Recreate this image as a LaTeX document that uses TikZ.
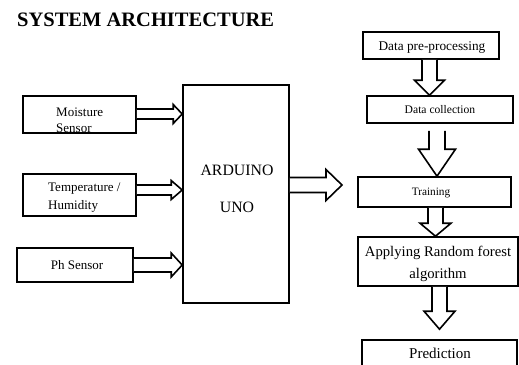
\documentclass[tikz,border=0pt]{standalone}
\usepackage{fontspec}
\setmainfont{Liberation Serif}
\usetikzlibrary{calc}
\tikzset{
  box/.style={draw=black, line width=1.6pt, rectangle, inner sep=0pt},
  blk/.style={draw=black, line width=1.6pt, line join=miter, fill=white},
  txt/.style={inner sep=0pt, text=black},
}
\newcommand\harr[5]{\draw[blk] let \p1=#1, \p2=#2 in
  (\x1,\y1+#3) -- (\x2-#5,\y1+#3) -- (\x2-#5,\y1+#4) -- (\x2,\y1) --
  (\x2-#5,\y1-#4) -- (\x2-#5,\y1-#3) -- (\x1,\y1-#3);}
\newcommand\varr[5]{\draw[blk] let \p1=#1, \p2=#2 in
  (\x1+#3,\y1) -- (\x1+#3,\y2+#5) -- (\x1+#4,\y2+#5) -- (\x1,\y2) --
  (\x1-#4,\y2+#5) -- (\x1-#3,\y2+#5) -- (\x1-#3,\y1);}
\begin{document}
\begin{tikzpicture}[x=1pt,y=-1pt]
\clip (0,0) rectangle (519,364);
\fill[white] (0,0) rectangle (519,364);
% title
\node[txt, anchor=west, font=\fontsize{20.5}{24}\selectfont\bfseries] (title) at (17,20) {SYSTEM ARCHITECTURE};
% left boxes
\node[box, minimum width=113pt, minimum height=37pt] (moist) at (79.5,114.5) {};
\node[txt, anchor=west, align=left, font=\fontsize{13}{16}\selectfont] (moistt) at (56,120) {Moisture\\Sensor};
\node[box, minimum width=113pt, minimum height=42pt] (temp) at (79.5,195) {};
\node[txt, anchor=west, align=left, font=\fontsize{13}{18}\selectfont] (tempt) at (48,198) {Temperature /\\Humidity};
\node[box, minimum width=116pt, minimum height=34pt] (ph) at (75,265) {};
\node[txt, font=\fontsize{13}{16}\selectfont] (pht) at (77,265) {Ph Sensor};
% arduino
\node[box, minimum width=106pt, minimum height=218pt] (ard) at (236,194) {};
\node[txt, align=center, font=\fontsize{15.8}{37}\selectfont] (ardt) at (237,188.5) {ARDUINO\\UNO};
% right column
\node[box, minimum width=136pt, minimum height=27pt] (pre) at (431,45.5) {};
\node[txt, font=\fontsize{13.3}{16}\selectfont] (pret) at (432,48) {Data pre-processing};
\node[box, minimum width=146pt, minimum height=27pt] (coll) at (440,109.5) {};
\node[txt, font=\fontsize{11.6}{14}\selectfont] (collt) at (440,110) {Data collection};
\node[box, minimum width=153pt, minimum height=30pt] (train) at (434.5,192) {};
\node[txt, font=\fontsize{11.3}{14}\selectfont] (traint) at (431,193) {Training};
\node[box, minimum width=160pt, minimum height=49pt] (apply) at (438,261.5) {};
\node[txt, align=center, font=\fontsize{14.7}{22}\selectfont] (applyt) at (438,264) {Applying Random forest\\algorithm};
\node[box, minimum width=155pt, minimum height=40pt] (pred) at (439.5,360) {};
\node[txt, font=\fontsize{15}{18}\selectfont] (predt) at (440,353) {Prediction};
\coordinate (ardtip) at (342,185);
% horizontal block arrows
\harr{($(moist.east)+(0,-0.5)$)}{(ard.west)}{5pt}{9.5pt}{9pt}
\harr{($(temp.east)+(0,-5)$)}{(ard.west)}{5pt}{9.5pt}{11pt}
\harr{(ph.east)}{(ard.west)}{7pt}{12pt}{11pt}
\harr{($(ard.east)+(0,-9)$)}{(ardtip)}{7.5pt}{15.5pt}{16pt}
% vertical block arrows
\varr{($(pre.south)+(-1.5,0)$)}{(coll.north)}{7.5pt}{15pt}{15pt}
\varr{($(coll.south)+(-3,7)$)}{(train.north)}{8pt}{18.5pt}{27pt}
\varr{($(train.south)+(1,0)$)}{(apply.north)}{7.5pt}{15.5pt}{13pt}
\varr{($(apply.south)+(1.5,0)$)}{($(pred.north)+(0,-10)$)}{7.5pt}{15.5pt}{18pt}
\end{tikzpicture}
\end{document}
